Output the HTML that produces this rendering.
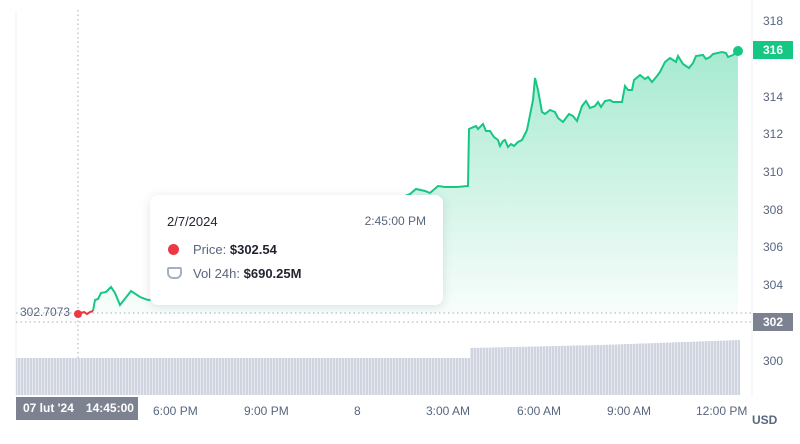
<!DOCTYPE html>
<html><head><meta charset="utf-8"><style>
body{margin:0;width:800px;height:444px;background:#fff;font-family:"Liberation Sans",sans-serif;overflow:hidden;position:relative}
.ax{position:absolute;font-size:12px;color:#58667e}
</style></head><body>
<svg width="800" height="444" style="position:absolute;left:0;top:0">
<defs>
<linearGradient id="g" x1="0" y1="0" x2="0" y2="1"><stop offset="0" stop-color="#16c784" stop-opacity="0.38"/><stop offset="1" stop-color="#16c784" stop-opacity="0.03"/></linearGradient>
<pattern id="vb" width="3" height="10" patternUnits="userSpaceOnUse"><rect width="2" height="10" fill="#cfd4df"/><rect x="2" width="1" height="10" fill="#e6e9ef"/></pattern>
</defs>
<line x1="752" y1="0" x2="752" y2="398" stroke="#eef0f3"/>
<line x1="16" y1="10" x2="16" y2="398" stroke="#eef0f3"/>
<path d="M93,311 L95,300 98,299 101,293 106,292 111,287 115,293 120,305 131,291 140,297 148,300 160,299 200,290 250,270 300,250 350,225 390,205 405,196 410,194 416,189 425,191 430,193 438,186 445,187 457,187 468,186 469,129 476,126 478,129 483,124 486,131 490,131 494,137 498,140 500,146 503,141 505,140 508,147 511,144 514,146 518,142 522,140 527,130 533,100 535,78 538,90 542,112 545,114 550,110 555,112 558,118 563,122 569,114 573,116 577,121 582,106 586,101 590,108 595,106 598,102 601,107 605,101 610,100 613,102 622,102 625,86 628,90 632,90 634,80 640,75 645,79 648,77 652,82 657,76 660,72 665,62 670,58 676,62 678,56 683,64 689,68 693,63 696,56 703,55 706,59 710,57 713,54 722,52 726,53 728,57 733,55 738,51 L738,313 93,313 Z" fill="url(#g)"/>
<line x1="16" y1="313" x2="752" y2="313" stroke="#a8aeba" stroke-dasharray="1.5,3"/>
<line x1="16" y1="322" x2="752" y2="322" stroke="#a8aeba" stroke-dasharray="1.5,3"/>
<line x1="78" y1="10" x2="78" y2="398" stroke="#a8aeba" stroke-dasharray="1.5,3"/>
<path d="M16,358 L470,358 470,348 600,345 740,340 740,395 16,395 Z" fill="url(#vb)"/>
<path d="M93,311 L95,300 98,299 101,293 106,292 111,287 115,293 120,305 131,291 140,297 148,300 160,299 200,290 250,270 300,250 350,225 390,205 405,196 410,194 416,189 425,191 430,193 438,186 445,187 457,187 468,186 469,129 476,126 478,129 483,124 486,131 490,131 494,137 498,140 500,146 503,141 505,140 508,147 511,144 514,146 518,142 522,140 527,130 533,100 535,78 538,90 542,112 545,114 550,110 555,112 558,118 563,122 569,114 573,116 577,121 582,106 586,101 590,108 595,106 598,102 601,107 605,101 610,100 613,102 622,102 625,86 628,90 632,90 634,80 640,75 645,79 648,77 652,82 657,76 660,72 665,62 670,58 676,62 678,56 683,64 689,68 693,63 696,56 703,55 706,59 710,57 713,54 722,52 726,53 728,57 733,55 738,51" fill="none" stroke="#16c784" stroke-width="2"/>
<path d="M78,314 L84,312 87,314 90,312 93,311" fill="none" stroke="#ea3943" stroke-width="2"/>
<circle cx="78" cy="314" r="4" fill="#ea3943"/>
<circle cx="738" cy="51" r="5" fill="#16c784"/>
</svg>
<div class="ax" style="left:763px;top:14px">318</div>
<div class="ax" style="left:763px;top:90px">314</div>
<div class="ax" style="left:763px;top:127px">312</div>
<div class="ax" style="left:763px;top:165px">310</div>
<div class="ax" style="left:763px;top:203px">308</div>
<div class="ax" style="left:763px;top:240px">306</div>
<div class="ax" style="left:763px;top:278px">304</div>
<div class="ax" style="left:763px;top:354px">300</div>
<div style="position:absolute;left:753px;top:41px;width:40px;height:18px;background:#16c784;color:#fff;font-size:12px;font-weight:bold;line-height:18px;text-align:center">316</div>
<div style="position:absolute;left:753px;top:313px;width:40px;height:18px;background:#7c8290;color:#fff;font-size:12px;font-weight:bold;line-height:18px;text-align:center">302</div>
<div class="ax" style="left:20px;top:305px;color:#58667e">302.7073</div>
<div style="position:absolute;left:16px;top:397px;width:122px;height:23px;background:#7c8290;color:#fff;font-size:12px;line-height:23px;font-weight:bold"><span style="margin-left:7px">07 lut '24</span><span style="margin-left:12px">14:45:00</span></div>
<div class="ax" style="left:153px;top:404px">6:00 PM</div>
<div class="ax" style="left:244px;top:404px">9:00 PM</div>
<div class="ax" style="left:354px;top:404px">8</div>
<div class="ax" style="left:426px;top:404px">3:00 AM</div>
<div class="ax" style="left:517px;top:404px">6:00 AM</div>
<div class="ax" style="left:607px;top:404px">9:00 AM</div>
<div class="ax" style="left:696px;top:404px">12:00 PM</div>
<div class="ax" style="left:752px;top:413px;font-weight:bold;color:#58667e">USD</div>
<div style="position:absolute;left:150px;top:195px;width:293px;height:110px;background:#fff;border-radius:8px;box-shadow:0 2px 10px rgba(88,102,126,0.18);font-size:13px;color:#222531">
<div style="position:absolute;left:17px;top:19px">2/7/2024</div>
<div style="position:absolute;right:17px;top:19px;color:#58667e;font-size:12px">2:45:00 PM</div>
<div style="position:absolute;left:18px;top:49px;width:11px;height:11px;border-radius:50%;background:#ea3943"></div>
<div style="position:absolute;left:43px;top:47px"><span style="color:#58667e">Price:</span> <b>$302.54</b></div>
<div style="position:absolute;left:17px;top:72px;width:11px;height:8px;border:2px solid #a6b0c3;border-radius:2px 2px 6px 6px"></div>
<div style="position:absolute;left:43px;top:71px"><span style="color:#58667e">Vol 24h:</span> <b>$690.25M</b></div>
</div>
</body></html>
